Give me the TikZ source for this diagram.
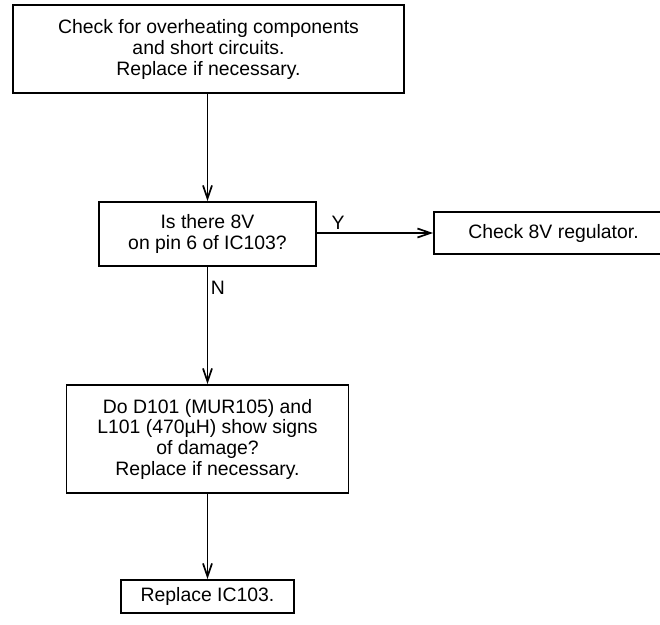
\documentclass[tikz,border=0pt]{standalone}
\usepackage{fontspec}
\setmainfont{Liberation Sans}
\usetikzlibrary{arrows.meta}
\begin{document}
\begin{tikzpicture}[x=1pt,y=-1pt,
  box/.style={draw, line width=1.9pt, inner sep=0pt, align=center,
    font=\fontsize{19.4}{20.8}\selectfont},
  flow/.style={line width=1.7pt, -{Straight Barb[length=13pt,width=9pt,line width=1.7pt]}},
  tag/.style={inner sep=0pt, font=\fontsize{19.4}{20.8}\selectfont}]
  \useasboundingbox (0,0) rectangle (660,624);
  \begin{scope}
    \clip (0,0) rectangle (660,624);
    \node[box, minimum width=391pt, minimum height=88pt] (check) at (208.5,49)
      {\strut Check for overheating components\\and short circuits.\\Replace if necessary.};
    \node[box, minimum width=217pt, minimum height=64pt] (pin) at (207.5,234)
      {\strut Is there 8V\\on pin 6 of IC103?};
    \node[box, minimum width=239pt, minimum height=42pt] (reg) at (553.5,233)
      {Check 8V regulator.};
    \node[box, minimum width=282pt, minimum height=108pt] (diode) at (207.5,439)
      {\strut Do D101 (MUR105) and\\L101 (470µH) show signs\\of damage?\\Replace if necessary.};
    \node[box, minimum width=173pt, minimum height=33pt] (ic) at (207.5,596.5)
      {Replace IC103.};
  \end{scope}
  \draw[flow] (check.south -| pin.north) -- (pin.north);
  \draw[flow] (pin.east |- reg.west) -- (reg.west);
  \draw[flow] (pin.south) -- (diode.north);
  \draw[flow] (diode.south) -- (ic.north);
  \node[tag] (yes) at (338,223) {Y};
  \node[tag] (no) at (218,288) {N};
\end{tikzpicture}
\end{document}
